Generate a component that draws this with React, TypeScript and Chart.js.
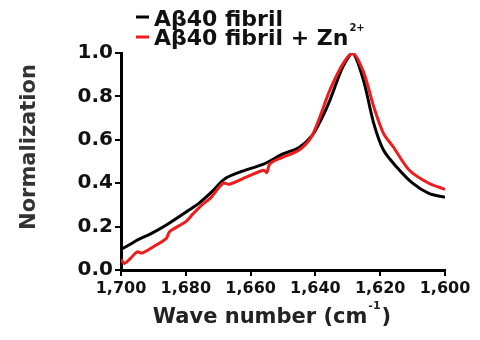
import React, { useEffect, useRef } from "react";
import { Chart, registerables } from "chart.js";

Chart.register(...registerables);

const blackWave = [1700, 1697, 1695, 1691, 1686, 1679, 1676, 1672, 1668, 1663, 1656, 1650, 1645, 1641, 1638, 1635.5, 1631.5, 1628.5, 1625.2, 1622, 1619, 1615, 1610, 1605, 1600];
const blackValues = [0.095, 0.12, 0.138, 0.165, 0.207, 0.276, 0.307, 0.36, 0.42, 0.453, 0.488, 0.535, 0.565, 0.62, 0.7, 0.783, 0.937, 1.0, 0.876, 0.676, 0.553, 0.476, 0.4, 0.353, 0.335];

const redWave = [1700, 1699, 1697, 1695, 1693.5, 1690, 1686, 1685, 1680, 1678, 1675, 1672.5, 1668.5, 1666.5, 1661, 1656, 1655, 1654, 1650, 1645, 1641, 1635.5, 1631.5, 1628.5, 1625.2, 1622, 1619, 1616, 1611, 1605, 1600];
const redValues = [0.05, 0.03, 0.055, 0.084, 0.078, 0.107, 0.146, 0.177, 0.223, 0.255, 0.3, 0.33, 0.4, 0.395, 0.43, 0.46, 0.45, 0.49, 0.52, 0.553, 0.62, 0.83, 0.95, 1.0, 0.914, 0.753, 0.63, 0.568, 0.46, 0.4, 0.372];

const seriesNames = ["A\u03b240 fibril", "A\u03b240 fibril + Zn"];
const seriesColors = ["#000000", "#ee1c1c"];
const yTitle = "Normalization";
const xTitle = "Wave number (cm";

const FONT = "'DejaVu Sans', sans-serif";

const annotations = {
  id: "annotations",
  afterDraw(chart: any) {
    const ctx = chart.ctx;
    ctx.save();
    // legend
    ctx.lineWidth = 3;
    ctx.strokeStyle = seriesColors[0];
    ctx.beginPath();
    ctx.moveTo(136, 17);
    ctx.lineTo(149, 17);
    ctx.stroke();
    ctx.strokeStyle = seriesColors[1];
    ctx.beginPath();
    ctx.moveTo(136, 37);
    ctx.lineTo(149, 37);
    ctx.stroke();
    ctx.fillStyle = "#111";
    ctx.font = `bold 22px ${FONT}`;
    ctx.textAlign = "left";
    ctx.textBaseline = "alphabetic";
    ctx.fillText(seriesNames[0], 154, 26);
    ctx.fillText(seriesNames[1], 154, 45);
    const w = ctx.measureText(seriesNames[1]).width;
    ctx.font = `bold 10px ${FONT}`;
    ctx.fillText("2+", 154 + w + 1, 31);

    // x title
    ctx.fillStyle = "#222";
    ctx.font = `bold 21px ${FONT}`;
    const w1 = ctx.measureText(xTitle).width;
    ctx.font = `bold 11px ${FONT}`;
    const w2 = ctx.measureText("-1").width;
    ctx.font = `bold 21px ${FONT}`;
    const w3 = ctx.measureText(")").width;
    const total = w1 + w2 + 2 + w3;
    let x = 272 - total / 2;
    ctx.fillText(xTitle, x, 323);
    x += w1 + 1;
    ctx.font = `bold 11px ${FONT}`;
    ctx.fillText("-1", x, 309);
    x += w2 + 1;
    ctx.font = `bold 21px ${FONT}`;
    ctx.fillText(")", x, 323);

    // y title
    ctx.translate(35, 147);
    ctx.rotate(-Math.PI / 2);
    ctx.textAlign = "center";
    ctx.fillStyle = "#333";
    ctx.font = `bold 21px ${FONT}`;
    ctx.fillText(yTitle, 0, 0);
    ctx.restore();
  },
};

export default function App() {
  const ref = useRef<HTMLCanvasElement>(null);
  useEffect(() => {
    const chart = new Chart(ref.current!, {
      type: "line",
      data: {
        datasets: [
          {
            label: seriesNames[1],
            data: redWave.map((w, i) => ({ x: w, y: redValues[i] })),
            borderColor: seriesColors[1],
            borderWidth: 3,
            pointRadius: 0,
            tension: 0.3,
            fill: false,
          },
          {
            label: seriesNames[0],
            data: blackWave.map((w, i) => ({ x: w, y: blackValues[i] })),
            borderColor: seriesColors[0],
            borderWidth: 3,
            pointRadius: 0,
            tension: 0.3,
            fill: false,
          },
        ],
      },
      options: {
        animation: false,
        responsive: false,
        events: [],
        layout: { padding: { top: 53, right: 35, left: 0, bottom: 0 } },
        plugins: { legend: { display: false }, tooltip: { enabled: false } },
        scales: {
          x: {
            type: "linear",
            min: 1600,
            max: 1700,
            reverse: true,
            afterFit: (s: any) => {
              s.height = 70;
            },
            border: { color: "#000", width: 3 },
            grid: { drawOnChartArea: false, drawTicks: true, tickLength: 6, color: "#000", lineWidth: 2 },
            ticks: {
              stepSize: 20,
              padding: 3,
              maxRotation: 0,
              color: "#111",
              font: { family: FONT, weight: "bold", size: 16 },
              callback: (v: any) => {
                const n = Number(v);
                return `${Math.floor(n / 1000)},${String(n % 1000).padStart(3, "0")}`;
              },
            },
          },
          y: {
            min: 0,
            max: 1,
            afterFit: (s: any) => {
              s.width = 121;
            },
            border: { color: "#000", width: 3 },
            grid: { drawOnChartArea: false, drawTicks: true, tickLength: 6, color: "#000", lineWidth: 2 },
            ticks: {
              stepSize: 0.2,
              padding: 2,
              color: "#111",
              font: { family: FONT, weight: "bold", size: 20 },
              callback: (v: any) => Number(v).toFixed(1),
            },
          },
        },
      },
      plugins: [annotations],
    });
    return () => chart.destroy();
  }, []);
  return (
    <div style={{ position: "fixed", left: 0, top: 0, width: 480, height: 340, background: "#fff" }}>
      <canvas ref={ref} width={480} height={340} />
    </div>
  );
}
